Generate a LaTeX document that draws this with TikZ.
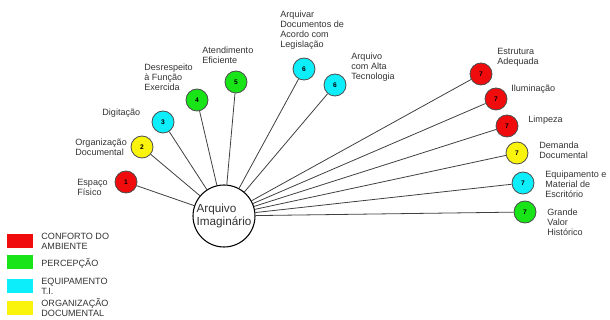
\documentclass[tikz,border=0pt]{standalone}
\usepackage{fontspec}
\setmainfont{Liberation Sans}
\usetikzlibrary{positioning}
\definecolor{cred}{RGB}{240,12,12}
\definecolor{cgreen}{RGB}{24,228,24}
\definecolor{ccyan}{RGB}{12,238,250}
\definecolor{cyellow}{RGB}{250,244,12}

\begin{document}
\begin{tikzpicture}[x=0.75pt, y=-0.75pt, semithick,
      hub/.style={draw, circle, thick, minimum size=46.5pt, inner sep=0pt,
                  align=left, text=black!80, font=\fontsize{8.8}{10}\selectfont},
      ball/.style={draw=black!70, circle, minimum size=16.5pt, inner sep=0pt,
                   font=\fontsize{5}{5}\selectfont\bfseries},
      lbl/.style={anchor=west, align=left, text=black!80, inner sep=0pt,
                  font=\fontsize{6.8}{7.5}\selectfont},
      key/.style={minimum width=19.5pt, minimum height=10.5pt, inner sep=0pt},
      spoke/.style={draw=black!75}]

    \useasboundingbox (0,0) rectangle (610,320);

    % === centre ===
    \node[hub] (hub) at (224,216) {Arquivo\\Imagin\'ario};

    % === left fan ===
    \node[ball, fill=cred]    (b1) at (126,182) {1};
    \node[ball, fill=cyellow] (b2) at (142,147) {2};
    \node[ball, fill=ccyan]   (b3) at (163,122) {3};
    \node[ball, fill=cgreen]  (b4) at (197,100) {4};
    \node[ball, fill=cgreen]  (b5) at (236,82)  {5};
    \node[ball, fill=ccyan]   (b6) at (304,69)  {6};
    \node[ball, fill=ccyan]   (b7) at (335,85)  {6};

    \node[lbl] (t1) at (77,187)  {Espaço\\Físico};
    \node[lbl] (t2) at (75,147)  {Organização\\Documental};
    \node[lbl] (t3) at (102,113) {Digitação};
    \node[lbl] (t4) at (144,77)  {Desrespeito\\à Função\\Exercida};
    \node[lbl] (t5) at (202,55)  {Atendimento\\Eficiente};
    \node[lbl] (t6) at (280,30)  {Arquivar\\Documentos de\\Acordo com\\Legislação};
    \node[lbl] (t7) at (351,67)  {Arquivo\\com Alta\\Tecnologia};

    % === right fan ===
    \node[ball, fill=cred]    (b8)  at (481,74)  {7};
    \node[ball, fill=cred]    (b9)  at (496,99)  {7};
    \node[ball, fill=cred]    (b10) at (507,126) {7};
    \node[ball, fill=cyellow] (b11) at (517,153) {7};
    \node[ball, fill=ccyan]   (b12) at (523,183) {7};
    \node[ball, fill=cgreen]  (b13) at (525,212) {7};

    \node[lbl] (t8)  at (497,57)  {Estrutura\\Adequada};
    \node[lbl] (t9)  at (511,89)  {Iluminação};
    \node[lbl] (t10) at (528,120) {Limpeza};
    \node[lbl] (t11) at (539,150) {Demanda\\Documental};
    \node[lbl] (t12) at (545,184) {Equipamento e\\Material de\\Escritório};
    \node[lbl] (t13) at (547,222) {Grande\\Valor\\Histórico};

    \foreach \i in {1,...,13}
      \draw[spoke] (hub) -- (b\i);

    % === legend ===
    \node[key, fill=cred]    (k1) at (20,241)   {};
    \node[key, fill=cgreen]  (k2) at (20,262.5) {};
    \node[key, fill=ccyan]   (k3) at (20,286)   {};
    \node[key, fill=cyellow] (k4) at (20,307.5) {};
    \node[lbl] (l1) at (41,241.5) {CONFORTO DO\\AMBIENTE};
    \node[lbl] (l2) at (41,263)   {PERCEPÇÃO};
    \node[lbl] (l3) at (41,286.5) {EQUIPAMENTO\\T.I.};
    \node[lbl] (l4) at (41,307.5) {ORGANIZAÇÃO\\DOCUMENTAL};

\end{tikzpicture}
\end{document}
